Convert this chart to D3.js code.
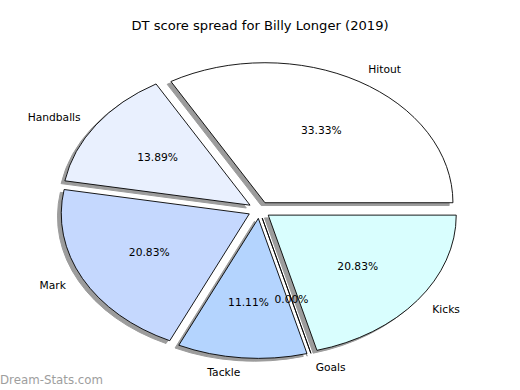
<!DOCTYPE html>
<html><head><meta charset="utf-8">
<script src="https://cdn.jsdelivr.net/npm/d3@7"></script>
<style>html,body{margin:0;padding:0;background:#fff}svg{display:block}</style>
</head><body>
<script>
const categories = ["Hitout","Handballs","Mark","Tackle","Goals","Kicks"];
const values = [24,10,15,8,0,15];
const colors = ["#ffffff","#e9f0fe","#c5d8fe","#b4d4fe","#d9fbfe","#d9fefe"];
const title = "DT score spread for Billy Longer (2019)";
const watermark = "Dream-Stats.com";

const W=520,H=390;
const cx=259.3, cy=210, rx=188, ry=140, explode=0.06;
const svg=d3.select("body").append("svg").attr("width",W).attr("height",H);
svg.append("rect").attr("width",W).attr("height",H).attr("fill","#fff");

const x=d3.scaleLinear().domain([-1,1]).range([cx-rx,cx+rx]);
const y=d3.scaleLinear().domain([-1,1]).range([cy+ry,cy-ry]);

const total=d3.sum(values);
const pie=d3.pie().sort(null).startAngle(Math.PI/2).endAngle(Math.PI/2-2*Math.PI);
const arcs=pie(values);
const arc=d3.arc().innerRadius(0).outerRadius(1);

function mid(a){const m=(a.startAngle+a.endAngle)/2; return {c:Math.sin(m), s:Math.cos(m)};}
const sx=(x(1)-x(-1))/2, sy=(y(-1)-y(1))/2;

// shadows
const gSh=svg.append("g");
arcs.forEach((a,i)=>{
  const d=mid(a);
  const ox=explode*d.c-0.02, oy=explode*d.s-0.02;
  gSh.append("path").attr("d",arc(a))
    .attr("transform",`translate(${x(ox)},${y(oy)}) scale(${sx},${sy})`)
    .attr("fill","#9c9c9c").attr("stroke","#9c9c9c").attr("stroke-width",1)
    .attr("vector-effect","non-scaling-stroke");
});
const gW=svg.append("g");
arcs.forEach((a,i)=>{
  const d=mid(a);
  const ox=explode*d.c, oy=explode*d.s;
  gW.append("path").attr("d",arc(a))
    .attr("transform",`translate(${x(ox)},${y(oy)}) scale(${sx},${sy})`)
    .attr("fill",colors[i]).attr("stroke","#000").attr("stroke-width",0.9)
    .attr("stroke-linejoin","round")
    .attr("vector-effect","non-scaling-stroke");
});
const gT=svg.append("g").attr("font-family","DejaVu Sans").attr("font-size",10.7).attr("fill","#000");
arcs.forEach((a,i)=>{
  const d=mid(a);
  const ox=explode*d.c, oy=explode*d.s;
  const lx=ox+1.1*d.c, ly=oy+1.1*d.s;
  gT.append("text").attr("x",x(lx)).attr("y",y(ly)).attr("dy","0.35em")
    .attr("text-anchor",lx>0?"start":"end").text(categories[i]);
  const px=ox+0.6*d.c, py=oy+0.6*d.s;
  gT.append("text").attr("x",x(px)).attr("y",y(py)).attr("dy","0.35em")
    .attr("text-anchor","middle").text(d3.format(".2f")(values[i]/total*100)+"%");
});
svg.append("text").attr("x",260).attr("y",25).attr("dy","0.35em").attr("text-anchor","middle")
  .attr("font-family","DejaVu Sans").attr("font-size",13.1).text(title);
svg.append("text").attr("x",0).attr("y",380).attr("dy","0.35em")
  .attr("font-family","DejaVu Sans").attr("font-size",11.8).attr("fill","#9e9e9e").text(watermark);
</script>
</body></html>
